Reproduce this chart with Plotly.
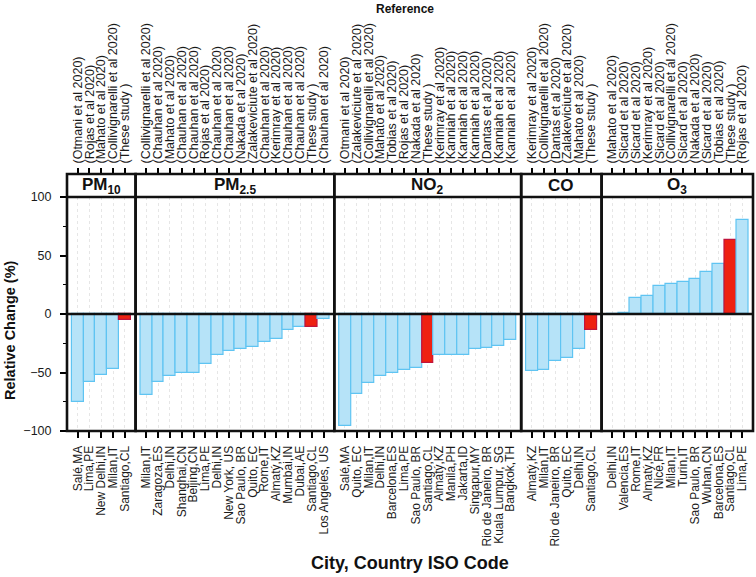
import plotly.graph_objects as go

# ---------------- data ----------------
panel_names = ["PM<sub>10</sub>", "PM<sub>2.5</sub>", "NO<sub>2</sub>", "CO", "O<sub>3</sub>"]

pm10_cities = ["Salé,MA", "Lima,PE", "New Delhi,IN", "Milan,IT", "Santiago,CL"]
pm10_refs = ["(Otmani et al 2020)", "(Rojas et al 2020)", "(Mahato et al 2020)",
             "(Collivignarelli et al 2020)", "(These study )"]
pm10_vals = [-75, -58, -52, -47, -5]

pm25_cities = ["Milan,IT", "Zaragoza,ES", "Delhi,IN", "Shanghai,CN", "Beijing,CN", "Lima,PE",
               "Delhi,IN", "New York, US", "Sao Paulo, BR", "Quito, EC", "Rome,IT", "Almatý,KZ",
               "Mumbai,IN", "Dubai,AE", "Santiago,CL", "Los Angeles, US"]
pm25_refs = ["(Collivignarelli et al 2020)", "(Chauhan et al 2020)", "(Mahato et al 2020)",
             "(Chauhan et al 2020)", "(Chauhan et al 2020)", "(Rojas et al 2020)",
             "(Chauhan et al 2020)", "(Chauhan et al 2020)", "(Nakada et al 2020)",
             "(Zalakeviciute et al 2020)", "(Chauhan et al 2020)", "(Kerimray et al 2020)",
             "(Chauhan et al 2020)", "(Chauhan et al 2020)", "(These study )", "(Chauhan et al 2020)"]
pm25_vals = [-69, -58, -53, -50, -50, -43, -35, -32, -30, -28, -24, -21, -14, -11, -11, -4]

no2_cities = ["Salé,MA", "Quito, EC", "Milan,IT", "Delhi,IN", "Barcelona,ES", "Lima,PE",
              "Sao Paulo, BR", "Santiago,CL", "Almatý,KZ", "Manila,PH", "Jakarta,ID",
              "Singapur,MY", "Rio de Janeiro, BR", "Kuala Lumpur, SG", "Bangkok,TH"]
no2_refs = ["(Otmani et al 2020)", "(Zalakeviciute et al 2020)", "(Collivignarelli et al 2020)",
            "(Mahato et al 2020)", "(Tobias et al 2020)", "(Rojas et al 2020)",
            "(Nakada et al 2020)", "(These study )", "(Kerimray et al 2020)",
            "(Kanniah et al 2020)", "(Kanniah et al 2020)", "(Kanniah et al 2020)",
            "(Dantas et al 2020)", "(Kanniah et al 2020)", "(Kanniah et al 2020)"]
no2_vals = [-96, -68, -59, -53, -50, -48, -46, -42, -35, -35, -35, -30, -29, -27, -22]

co_cities = ["Almatý,KZ", "Milan,IT", "Rio de Janeiro, BR", "Quito, EC", "Delhi,IN", "Santiago,CL"]
co_refs = ["(Kerimray et al 2020)", "(Collivignarelli et al 2020)", "(Dantas et al 2020)",
           "(Zalakeviciute et al 2020)", "(Mahato et al 2020)", "(These study )"]
co_vals = [-49, -48, -40, -38, -30, -14]

o3_cities = ["Delhi,IN", "Valencia,ES", "Rome,IT", "Almatý,KZ", "Nice,FR", "Milan,IT", "Turin,IT",
             "Sao Paulo, BR", "Wuhan,CN", "Barcelona,ES", "Santiago,CL", "Lima,PE"]
o3_refs = ["(Mahato et al 2020)", "(Sicard et al 2020)", "(Sicard et al 2020)",
           "(Kerimray et al 2020)", "(Sicard et al 2020)", "(Collivignarelli et al 2020)",
           "(Sicard et al 2020)", "(Nakada et al 2020)", "(Sicard et al 2020)",
           "(Tobias et al 2020)", "(These study )", "(Rojas et al 2020)"]
o3_vals = [0.3, 1, 14, 15, 24, 26, 27, 30, 36, 43, 63, 80]

y_ticks = [-100, -50, 0, 50, 100]
y_minor = [-75, -25, 25, 75]
highlight_city = "Santiago,CL"

panels = [
    (pm10_cities, pm10_refs, pm10_vals),
    (pm25_cities, pm25_refs, pm25_vals),
    (no2_cities, no2_refs, no2_vals),
    (co_cities, co_refs, co_vals),
    (o3_cities, o3_refs, o3_vals),
]

# ---------------- styling ----------------
W, H = 756, 577
L, R, T, B = 67, 3, 174, 146
PAD = 0.9
BLUE, BLUE_EDGE = "#b6e3f8", "#5fc4f2"
RED, RED_EDGE = "#ee2111", "#c0143c"
FONT = "Liberation Sans, Arial, sans-serif"
plot_h = H - T - B
plot_w = W - L - R
y_top = (plot_h - 23) / plot_h  # strip occupies the top 23 px

units = [len(c) - 1 + 2 * PAD for c, _, _ in panels]
total = sum(units)

fig = go.Figure()
layout = dict(
    width=W, height=H,
    margin=dict(l=L, r=R, t=T, b=B, pad=0, autoexpand=False),
    plot_bgcolor="white", paper_bgcolor="white",
    showlegend=False, bargap=0,
    font=dict(family=FONT, size=12, color="#1a1a1a"),
    yaxis=dict(domain=[0, y_top], range=[-100, 100], tickvals=y_ticks,
               ticks="outside", ticklen=6, tickwidth=1.5, tickcolor="black",
               ticklabelstandoff=6,
               showgrid=False, zeroline=False, showline=False, automargin=False,
               tickfont=dict(size=12.5, color="#1a1a1a"),
               minor=dict(tickvals=y_minor, ticks="outside", ticklen=3,
                          tickwidth=1.2, tickcolor="black", showgrid=False)),
)

shapes = []
annotations = []
start = 0.0
for i, (cities, refs, vals) in enumerate(panels):
    n = len(cities)
    d0 = start / total
    d1 = (start + units[i]) / total
    start += units[i]
    pos = list(range(n))
    xb = "x" if i == 0 else f"x{i + 1}"
    xt = f"x{i + 6}"
    colors = [RED if c == highlight_city else BLUE for c in cities]
    edges = [RED_EDGE if c == highlight_city else BLUE_EDGE for c in cities]
    fig.add_trace(go.Bar(x=pos, y=vals, width=1, xaxis=xb, yaxis="y",
                         marker=dict(color=colors, line=dict(color=edges, width=1.2)),
                         hoverinfo="skip"))
    fig.add_trace(go.Scatter(x=pos, y=[0] * n, xaxis=xt, yaxis="y", mode="markers",
                             marker=dict(opacity=0), hoverinfo="skip"))
    rng = [-PAD, n - 1 + PAD]
    layout["xaxis" if i == 0 else f"xaxis{i + 1}"] = dict(
        domain=[d0, d1], anchor="y", range=rng, tickvals=pos, ticktext=cities,
        tickangle=-90, ticks="outside", ticklen=6, tickwidth=1.5, tickcolor="black",
        ticklabelstandoff=3,
        showgrid=True, gridcolor="#e6e6e6", griddash="dot", gridwidth=1,
        zeroline=False, showline=False, automargin=False,
        tickfont=dict(size=12, color="#1a1a1a"))
    layout[f"xaxis{i + 6}"] = dict(
        overlaying=xb, side="top", anchor="free", position=1, range=rng,
        tickvals=pos, ticktext=refs, tickangle=-90, ticks="outside", ticklen=6,
        tickwidth=1.5, tickcolor="black", ticklabelstandoff=2,
        showgrid=False, zeroline=False,
        showline=False, automargin=False, tickfont=dict(size=12.5, color="#1a1a1a"))
    # panel border + strip
    shapes.append(dict(type="rect", xref="paper", yref="paper", x0=d0, x1=d1, y0=0, y1=1,
                       line=dict(color="#111111", width=2.6), layer="above"))
    shapes.append(dict(type="line", xref="paper", yref="paper", x0=d0, x1=d1,
                       y0=y_top, y1=y_top, line=dict(color="#111111", width=2.6),
                       layer="above"))
    annotations.append(dict(text=f"<b>{panel_names[i]}</b>", xref="paper", yref="paper",
                            x=(d0 + d1) / 2, y=(1 + y_top) / 2, showarrow=False,
                            xanchor="center", yanchor="middle",
                            font=dict(size=17, color="#111111")))

# zero line
shapes.append(dict(type="line", xref="paper", yref="y", x0=0, x1=1, y0=0, y1=0,
                   line=dict(color="#111111", width=2.4), layer="above"))

# axis titles
annotations.append(dict(text="<b>City, Country ISO Code</b>", xref="paper", yref="paper",
                        x=(410 - L) / plot_w, y=(431 - 563) / plot_h, showarrow=False,
                        xanchor="center", yanchor="middle",
                        font=dict(size=18, color="#111111")))
annotations.append(dict(text="<b>Reference</b>", xref="paper", yref="paper",
                        x=(405 - L) / plot_w, y=(431 - 9) / plot_h, showarrow=False,
                        xanchor="center", yanchor="middle",
                        font=dict(size=12, color="#111111")))
annotations.append(dict(text="<b>Relative Change (%)</b>", xref="paper", yref="paper",
                        x=(10 - L) / plot_w, y=((431 - 330) / plot_h),
                        showarrow=False, textangle=-90,
                        xanchor="center", yanchor="middle",
                        font=dict(size=14.5, color="#111111")))

layout["shapes"] = shapes
layout["annotations"] = annotations
fig.update_layout(**layout)
fig.write_html("out.html", config={"displayModeBar": False},
               post_script="document.body.style.margin='0px';")
